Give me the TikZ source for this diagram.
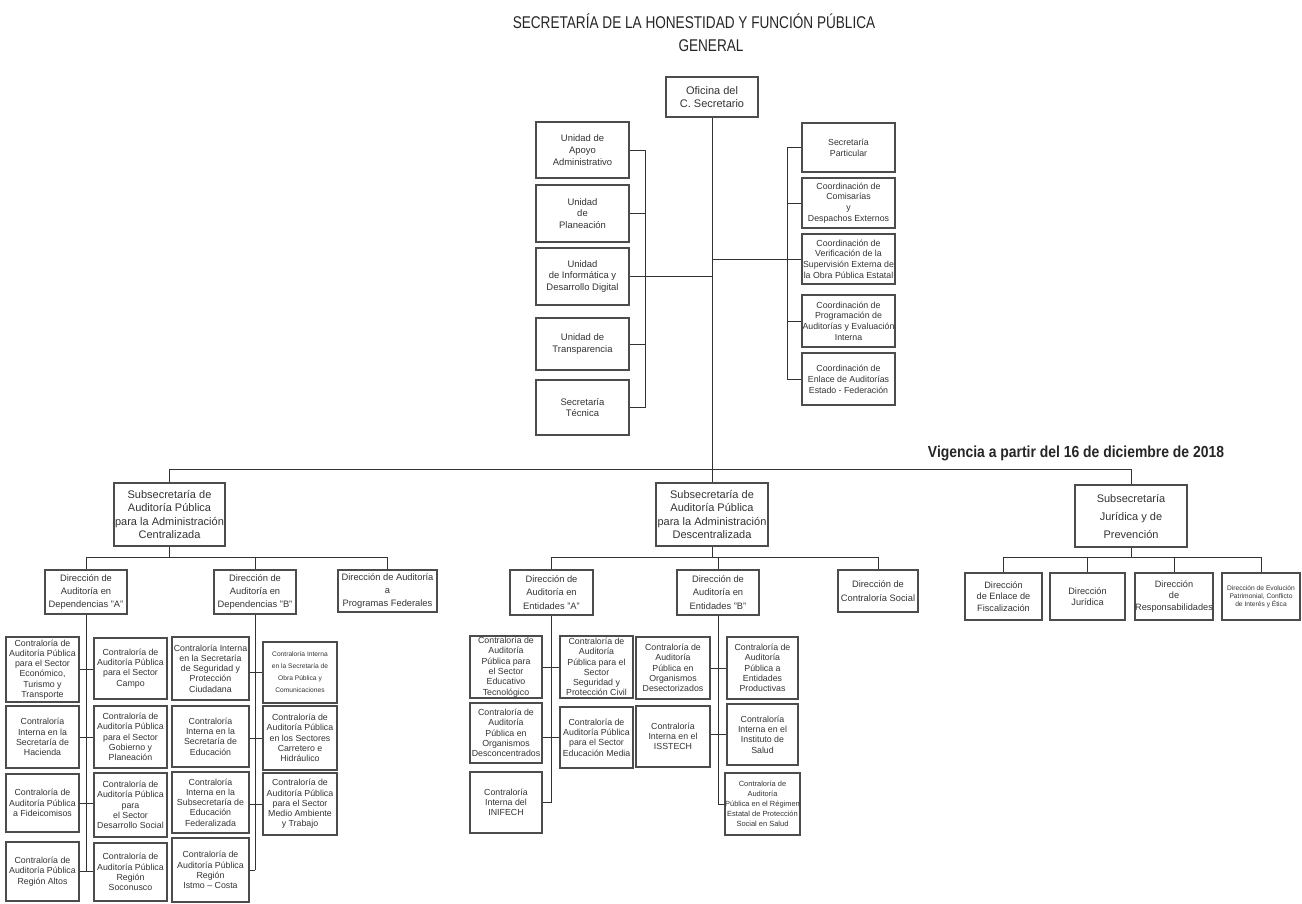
\documentclass[tikz,border=0pt]{standalone}
\usepackage{fontspec}
\setmainfont{Liberation Sans}
\newfontfamily\narrowsans[FakeStretch=0.8]{Liberation Sans}
\newfontfamily\vigsans[FakeStretch=0.87]{Liberation Sans}
\newcommand{\fsz}[2]{\fontsize{#1pt}{#2pt}\selectfont}
\newcommand{\orgbox}[7]{\node[#1, minimum width={(#5-#3)*0.75pt}, minimum height={(#6-#4)*0.75pt}] (#2) at ({(#3+#5)/2},{(#4+#6)/2}) {#7};}
\tikzset{
 bx/.style={draw=black!70, line width=1.1pt, inner sep=0pt, align=center, text=black!80},
 topbx/.style={bx, font=\fsz{8.25}{9.75}},
 unitbx/.style={bx, font=\fsz{7.1}{8.8}},
 coordbx/.style={bx, font=\fsz{6.6}{8.1}},
 subbx/.style={bx, font=\fsz{8.25}{10}},
 subjbx/.style={bx, font=\fsz{8.25}{13.5}},
 dirbx/.style={bx, font=\fsz{7}{10}},
 jurbx/.style={bx, font=\fsz{6.9}{8.4}},
 cbx/.style={bx, font=\fsz{6.6}{7.7}},
 tinybx/.style={bx, font=\fsz{5}{6.2}},
 tinybxb/.style={bx, font=\fsz{5}{9}},
 tinybxc/.style={bx, font=\fsz{5.6}{7.6}},
 conn/.style={draw=black!80, line width=0.7pt},
}
\begin{document}
\begin{tikzpicture}[x=0.75pt,y=-0.75pt]
\useasboundingbox (0,0) rectangle (1302,903);
% titles
\node[font=\narrowsans\fsz{12.75}{14}, text=black!85] (title) at (694,21) {SECRETARÍA DE LA HONESTIDAD Y FUNCIÓN PÚBLICA};
\node[font=\narrowsans\fsz{12.75}{14}, text=black!85] (gen) at (711,46) {GENERAL};
\node[font=\vigsans\bfseries\fsz{12}{14}, text=black!85] (vig) at (1076,453) {Vigencia a partir del 16 de diciembre de 2018};
% top
\orgbox{topbx}{ofi}{666}{77}{758}{117}{Oficina del\\C. Secretario}
% left units
\orgbox{unitbx}{u1}{536}{122}{629}{178}{Unidad de\\Apoyo\\Administrativo}
\orgbox{unitbx}{u2}{536}{185}{629}{242}{Unidad\\de\\Planeación}
\orgbox{unitbx}{u3}{536}{248}{629}{305}{Unidad\\de Informática y\\Desarrollo Digital}
\orgbox{unitbx}{u4}{536}{318}{629}{370}{Unidad de\\Transparencia}
\orgbox{unitbx}{u5}{536}{380}{629}{435}{Secretaría\\Técnica}
% right coordinations
\orgbox{coordbx}{c1}{802}{123}{895}{172}{Secretaría\\Particular}
\orgbox{coordbx}{c2}{802}{178}{895}{228}{Coordinación de\\Comisarías\\y\\Despachos Externos}
\orgbox{coordbx}{c3}{802}{234}{895}{284}{Coordinación de\\Verificación de la\\Supervisión Externa de\\la Obra Pública Estatal}
\orgbox{coordbx}{c4}{802}{295}{895}{347}{Coordinación de\\Programación de\\Auditorías y Evaluación\\Interna}
\orgbox{coordbx}{c5}{802}{353}{895}{405}{Coordinación de\\Enlace de Auditorías\\Estado - Federación}
% subsecretarias
\orgbox{subbx}{s1}{114}{483}{225}{546}{Subsecretaría de\\Auditoría Pública\\para la Administración\\Centralizada}
\orgbox{subbx}{s2}{656}{483}{768}{546}{Subsecretaría de\\Auditoría Pública\\para la Administración\\Descentralizada}
\orgbox{subjbx}{s3}{1075}{485}{1187}{547}{Subsecretaría\\Jurídica y de\\Prevención}
% direcciones
\orgbox{dirbx}{dA}{45}{570}{127}{614}{Dirección de\\Auditoría en\\Dependencias "A"}
\orgbox{dirbx}{dB}{214}{570}{296}{614}{Dirección de\\Auditoría en\\Dependencias "B"}
\orgbox{dirbx}{dP}{338}{570}{437}{612}{Dirección de Auditoría\\a\\Programas Federales}
\orgbox{dirbx}{eA}{510}{570}{593}{615}{Dirección de\\Auditoría en\\Entidades "A"}
\orgbox{dirbx}{eB}{677}{570}{759}{615}{Dirección de\\Auditoría en\\Entidades "B"}
\orgbox{dirbx}{cs}{838}{570}{918}{612}{Dirección de\\Contraloría Social}
\orgbox{jurbx}{j1}{965}{573}{1042}{620}{Dirección\\de Enlace de\\Fiscalización}
\orgbox{jurbx}{j2}{1050}{573}{1125}{620}{Dirección\\Jurídica}
\orgbox{jurbx}{j3}{1135}{573}{1213}{620}{Dirección\\de\\Responsabilidades}
\orgbox{tinybx}{j4}{1222}{573}{1300}{620}{Dirección de Evolución\\Patrimonial, Conflicto\\de Interés y Ética}
% group A
\orgbox{cbx}{a1}{6}{637}{79}{702}{Contraloría de\\Auditoría Pública\\para el Sector\\Económico,\\Turismo y\\Transporte}
\orgbox{cbx}{a2}{6}{706}{79}{768}{Contraloría\\Interna en la\\Secretaría de\\Hacienda}
\orgbox{cbx}{a3}{6}{774}{79}{832}{Contraloría de\\Auditoría Pública\\a Fideicomisos}
\orgbox{cbx}{a4}{6}{842}{79}{901}{Contraloría de\\Auditoría Pública\\Región Altos}
\orgbox{cbx}{a5}{94}{638}{167}{699}{Contraloría de\\Auditoría Pública\\para el Sector\\Campo}
\orgbox{cbx}{a6}{94}{706}{167}{768}{Contraloría de\\Auditoría Pública\\para el Sector\\Gobierno y\\Planeación}
\orgbox{cbx}{a7}{94}{773}{167}{837}{Contraloría de\\Auditoría Pública\\para\\el Sector\\Desarrollo Social}
\orgbox{cbx}{a8}{94}{843}{167}{901}{Contraloría de\\Auditoría Pública\\Región\\Soconusco}
% group B
\orgbox{cbx}{b1}{172}{637}{249}{700}{Contraloría Interna\\en la Secretaría\\de Seguridad y\\Protección\\Ciudadana}
\orgbox{cbx}{b2}{172}{706}{249}{767}{Contraloría\\Interna en la\\Secretaría de\\Educación}
\orgbox{cbx}{b3}{172}{772}{249}{833}{Contraloría\\Interna en la\\Subsecretaría de\\Educación\\Federalizada}
\orgbox{cbx}{b4}{172}{838}{249}{902}{Contraloría de\\Auditoría Pública\\Región\\Istmo – Costa}
\orgbox{tinybxb}{b5}{263}{642}{337}{703}{Contraloría Interna\\en la Secretaría de\\Obra Pública y\\Comunicaciones}
\orgbox{cbx}{b6}{263}{706}{337}{770}{Contraloría de\\Auditoría Pública\\en los Sectores\\Carretero e\\Hidráulico}
\orgbox{cbx}{b7}{263}{773}{337}{835}{Contraloría de\\Auditoría Pública\\para el Sector\\Medio Ambiente\\y Trabajo}
% group entidades A
\orgbox{cbx}{e1}{470}{636}{542}{698}{Contraloría de\\Auditoría\\Pública para\\el Sector\\Educativo\\Tecnológico}
\orgbox{cbx}{e2}{470}{703}{542}{763}{Contraloría de\\Auditoría\\Pública en\\Organismos\\Desconcentrados}
\orgbox{cbx}{e3}{470}{772}{542}{833}{Contraloría\\Interna del\\INIFECH}
\orgbox{cbx}{e4}{560}{636}{633}{698}{Contraloría de\\Auditoría\\Pública para el\\Sector\\Seguridad y\\Protección Civil}
\orgbox{cbx}{e5}{560}{707}{633}{768}{Contraloría de\\Auditoría Pública\\para el Sector\\Educación Media}
% group entidades B
\orgbox{cbx}{f1}{636}{637}{710}{699}{Contraloría de\\Auditoría\\Pública en\\Organismos\\Desectorizados}
\orgbox{cbx}{f2}{636}{706}{710}{767}{Contraloría\\Interna en el\\ISSTECH}
\orgbox{cbx}{f3}{727}{637}{798}{699}{Contraloría de\\Auditoría\\Pública a\\Entidades\\Productivas}
\orgbox{cbx}{f4}{727}{704}{798}{765}{Contraloría\\Interna en el\\Instituto de\\Salud}
\orgbox{tinybxc}{f5}{727}{773}{798}{835}{Contraloría de\\Auditoría\\Pública en el Régimen\\Estatal de Protección\\Social en Salud}
% ---------- connectors ----------
\draw[conn] (ofi.south) -- (s2.north);
\coordinate (lb) at (645,0);
\coordinate (rb) at (787,0);
\draw[conn] (u1.east -| lb) -- (u5.east -| lb);
\foreach \n in {u1,u2,u3,u4,u5} \draw[conn] (\n.east) -- (\n.east -| lb);
\draw[conn] (u3.east -| lb) -- (u3.east -| ofi.south);
\draw[conn] (c1.west -| rb) -- (c5.west -| rb);
\foreach \n in {c1,c2,c3,c4,c5} \draw[conn] (\n.west) -- (\n.west -| rb);
\draw[conn] (c3.west -| rb) -- (c3.west -| ofi.south);
% main bus
\draw[conn] (s1.north) -- ++(0,-13) -| (s3.north);
% sub buses
\coordinate (sb) at (0,557);
\draw[conn] (s1.south) -- (s1.south |- sb);
\draw[conn] (dA.north) |- (dP.north |- sb) -- (dP.north);
\draw[conn] (dB.north) -- (dB.north |- sb);
\draw[conn] (s2.south) -- (s2.south |- sb);
\draw[conn] (eA.north) |- (cs.north |- sb) -- (cs.north);
\draw[conn] (eB.north) -- (eB.north |- sb);
\draw[conn] (s3.south) -- (s3.south |- sb);
\draw[conn] (j1.north) |- (j4.north |- sb) -- (j4.north);
\draw[conn] (j2.north) -- (j2.north |- sb);
\draw[conn] (j3.north) -- (j3.north |- sb);
% group A
\draw[conn] (dA.south) -- (dA.south |- a4.east);
\draw[conn] (a1.east) -- (a1.east -| a5.west);
\draw[conn] (a2.east) -- (a2.east -| a6.west);
\draw[conn] (a3.east) -- (a3.east -| a7.west);
\draw[conn] (a4.east) -- (a4.east -| a8.west);
% group B
\draw[conn] (dB.south) -- (dB.south |- b4.east);
\draw[conn] (b1.east |- b5.west) -- (b5.west);
\draw[conn] (b2.east |- b6.west) -- (b6.west);
\draw[conn] (b3.east |- b7.west) -- (b7.west);
\draw[conn] (b4.east) -- (b4.east -| dB.south);
% group entidades A
\draw[conn] (eA.south) -- (eA.south |- e3.east);
\draw[conn] (e1.east) -- (e1.east -| e4.west);
\draw[conn] (e2.east |- e5.west) -- (e5.west);
\draw[conn] (e3.east) -- (e3.east -| eA.south);
% group entidades B
\draw[conn] (eB.south) -- (eB.south |- f5.west);
\draw[conn] (f1.east) -- (f1.east -| f3.west);
\draw[conn] (f2.east |- f4.west) -- (f4.west);
\draw[conn] (f5.west) -- (f5.west -| eB.south);
\end{tikzpicture}
\end{document}
